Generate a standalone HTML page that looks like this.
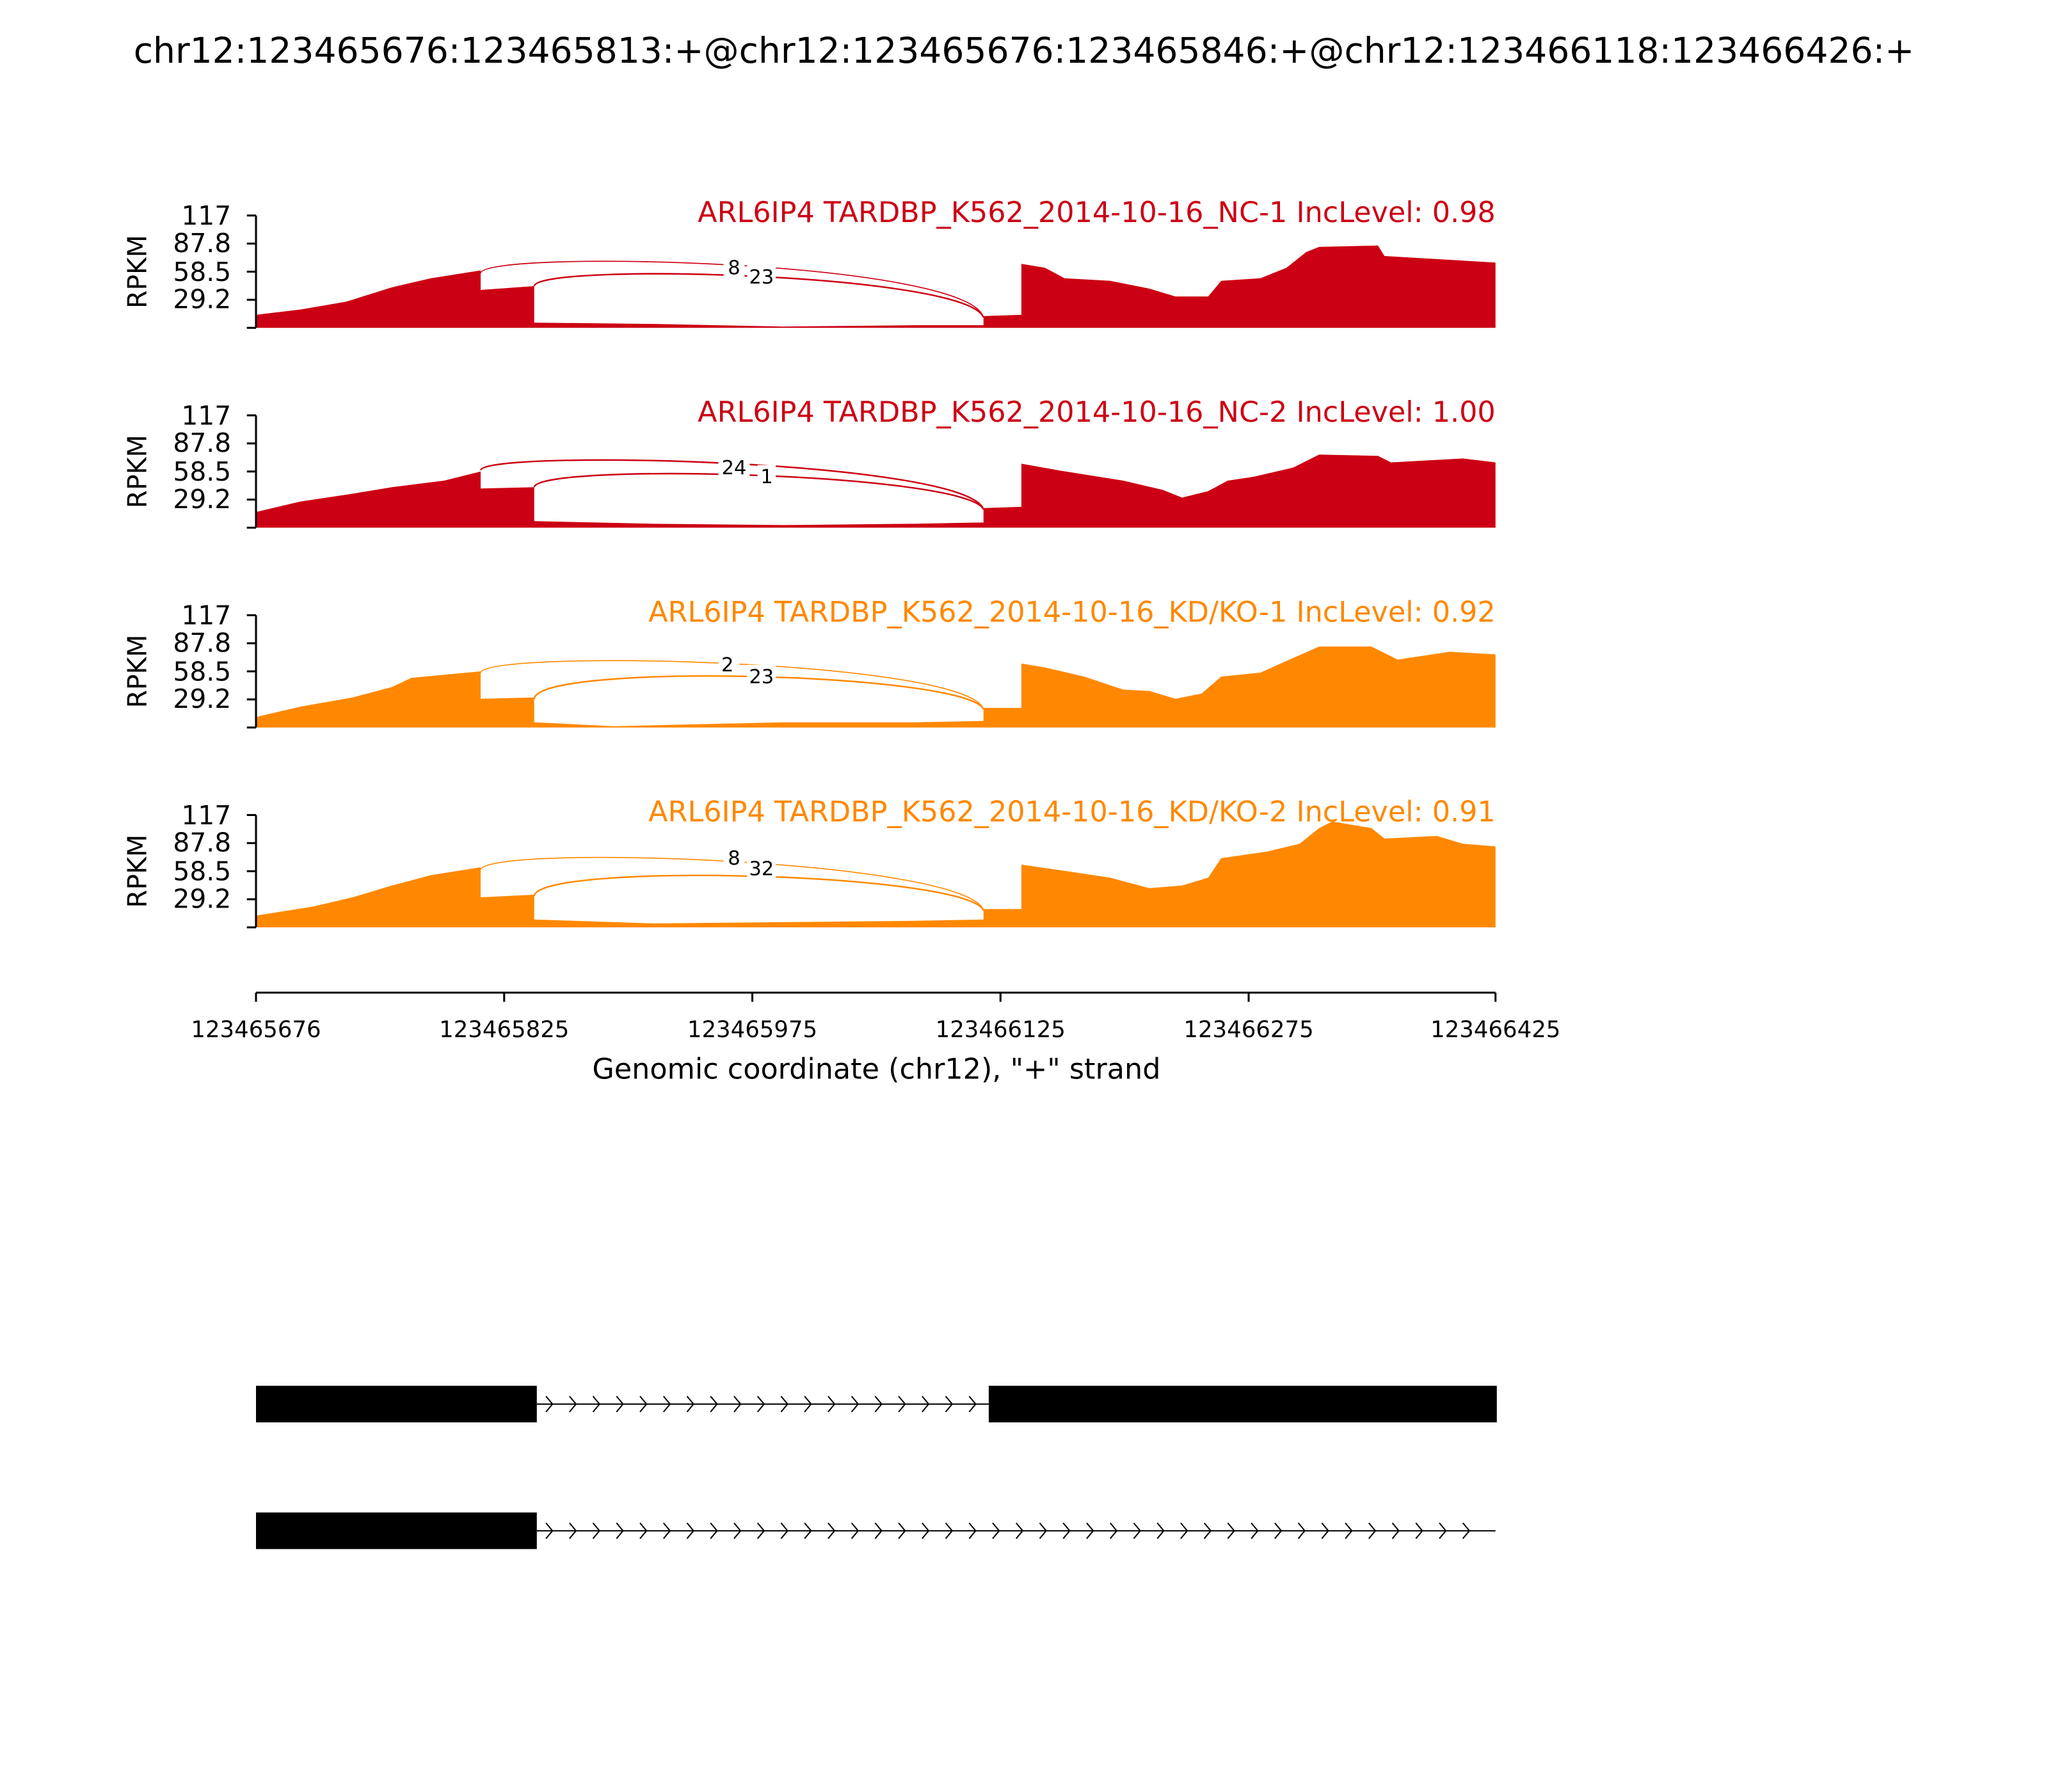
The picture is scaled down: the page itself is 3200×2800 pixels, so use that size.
<!DOCTYPE html>
<html><head><meta charset="utf-8"><style>html,body{margin:0;padding:0;background:#fff}svg{display:block}</style></head>
<body>
<svg width="3200" height="2800" viewBox="0 0 1568 1372" xmlns="http://www.w3.org/2000/svg" font-family="'DejaVu Sans','Liberation Sans',sans-serif">
<rect width="1568" height="1372" fill="#fff"/>
<text x="784" y="48" font-size="27" text-anchor="middle">chr12:123465676:123465813:+@chr12:123465676:123465846:+@chr12:123466118:123466426:+</text>

<defs>
<g id="yax">
<line x1="196" y1="0" x2="196" y2="86" stroke="#000" stroke-width="1.5"/>
<g stroke="#000" stroke-width="1.5">
<line x1="189" y1="0" x2="196" y2="0"/><line x1="189" y1="21.5" x2="196" y2="21.5"/><line x1="189" y1="43" x2="196" y2="43"/><line x1="189" y1="64.5" x2="196" y2="64.5"/><line x1="189" y1="86" x2="196" y2="86"/>
</g>
<g font-size="20" text-anchor="end">
<text x="177" y="7">117</text><text x="177" y="28">87.8</text><text x="177" y="50">58.5</text><text x="177" y="71">29.2</text>
</g>
<text transform="translate(112,43) rotate(-90)" font-size="20" text-anchor="middle">RPKM</text>
</g>
</defs>

<!-- Panel 1 -->
<g transform="translate(0,165)">
<polygon fill="#cc0014" points="196,76 230,72 265,66 300,55 330,48 368,42 368,57 409,54 409,82 500,83 600,85 700,84 753,84 753,77 782,76 782,37 800,40 815,48 850,50 880,56 900,62 925,62 935,50 965,48 985,40 1000,28 1010,24 1055,23 1060,31 1145,36 1145,86 196,86"/>
<use href="#yax"/>
<path d="M368,44 C372,26 740,34 753,78" fill="none" stroke="#cc0014" stroke-width="0.8"/>
<path d="M409,54 C412,36 740,44 753,78" fill="none" stroke="#cc0014" stroke-width="1.2"/>
<rect x="554" y="31" width="16" height="16" fill="#fff"/><text x="562" y="45" font-size="15" text-anchor="middle">8</text>
<rect x="572" y="38" width="22" height="16" fill="#fff"/><text x="583" y="52" font-size="15" text-anchor="middle">23</text>
<text x="1145" y="5" font-size="21.8" fill="#cc0014" text-anchor="end">ARL6IP4 TARDBP_K562_2014-10-16_NC-1 IncLevel: 0.98</text>
</g>

<!-- Panel 2 -->
<g transform="translate(0,318)">
<polygon fill="#cc0014" points="196,74 230,66 270,60 300,55 340,50 368,43 368,56 409,55 409,81 500,83 600,84 700,83 753,82 753,71 782,70 782,37 810,42 860,50 890,57 905,63 925,58 940,50 960,47 990,40 1010,30 1055,31 1065,36 1120,33 1145,36 1145,86 196,86"/>
<use href="#yax"/>
<path d="M368,42 C372,26 740,34 753,72" fill="none" stroke="#cc0014" stroke-width="1.2"/>
<path d="M409,55 C412,36 740,44 753,72" fill="none" stroke="#cc0014" stroke-width="1.2"/>
<rect x="550" y="31" width="24" height="16" fill="#fff"/><text x="562" y="45" font-size="15" text-anchor="middle">24</text>
<rect x="580" y="38" width="14" height="16" fill="#fff"/><text x="587" y="52" font-size="15" text-anchor="middle">1</text>
<text x="1145" y="5" font-size="21.8" fill="#cc0014" text-anchor="end">ARL6IP4 TARDBP_K562_2014-10-16_NC-2 IncLevel: 1.00</text>
</g>

<!-- Panel 3 -->
<g transform="translate(0,471)">
<polygon fill="#ff8800" points="196,78 230,70 270,63 300,55 315,48 368,43 368,64 409,63 409,82 470,85 600,82 700,82 753,81 753,71 782,71 782,37 800,40 830,47 860,57 880,58 900,64 920,60 935,47 965,44 985,35 1010,24 1050,24 1070,34 1110,28 1145,30 1145,86 196,86"/>
<use href="#yax"/>
<path d="M368,44 C372,26 740,34 753,72" fill="none" stroke="#ff8800" stroke-width="0.8"/>
<path d="M409,64 C412,36 740,44 753,72" fill="none" stroke="#ff8800" stroke-width="1.2"/>
<rect x="550" y="29" width="16" height="16" fill="#fff"/><text x="557" y="43" font-size="15" text-anchor="middle">2</text>
<rect x="572" y="38" width="22" height="16" fill="#fff"/><text x="583" y="52" font-size="15" text-anchor="middle">23</text>
<text x="1145" y="5" font-size="21.8" fill="#ff8800" text-anchor="end">ARL6IP4 TARDBP_K562_2014-10-16_KD/KO-1 IncLevel: 0.92</text>
</g>

<!-- Panel 4 -->
<g transform="translate(0,624)">
<polygon fill="#ff8800" points="196,77 240,70 270,63 300,54 330,46 368,40 368,63 409,61 409,80 500,83 600,82 700,81 753,80 753,72 782,72 782,38 810,42 850,48 880,56 905,54 925,48 935,33 970,28 995,22 1010,10 1020,5 1050,10 1060,18 1100,16 1120,22 1145,24 1145,86 196,86"/>
<use href="#yax"/>
<path d="M368,42 C372,22 740,34 753,73" fill="none" stroke="#ff8800" stroke-width="0.8"/>
<path d="M409,62 C412,36 740,44 753,73" fill="none" stroke="#ff8800" stroke-width="1.2"/>
<rect x="554" y="24" width="16" height="16" fill="#fff"/><text x="562" y="38" font-size="15" text-anchor="middle">8</text>
<rect x="572" y="32" width="22" height="16" fill="#fff"/><text x="583" y="46" font-size="15" text-anchor="middle">32</text>
<text x="1145" y="5" font-size="21.8" fill="#ff8800" text-anchor="end">ARL6IP4 TARDBP_K562_2014-10-16_KD/KO-2 IncLevel: 0.91</text>
</g>

<!-- X axis -->
<line x1="196" y1="760" x2="1145" y2="760" stroke="#000" stroke-width="1.5"/>
<g stroke="#000" stroke-width="1.5">
<line x1="196" y1="760" x2="196" y2="767"/><line x1="386" y1="760" x2="386" y2="767"/><line x1="576" y1="760" x2="576" y2="767"/><line x1="766" y1="760" x2="766" y2="767"/><line x1="956" y1="760" x2="956" y2="767"/><line x1="1145" y1="760" x2="1145" y2="767"/>
</g>
<g font-size="17.4" text-anchor="middle">
<text x="196" y="794">123465676</text><text x="386" y="794">123465825</text><text x="576" y="794">123465975</text><text x="766" y="794">123466125</text><text x="956" y="794">123466275</text><text x="1145" y="794">123466425</text>
</g>
<text x="671" y="826" font-size="21.8" text-anchor="middle">Genomic coordinate (chr12), "+" strand</text>

<!-- Gene models -->
<line x1="411" y1="1075" x2="757" y2="1075" stroke="#000" stroke-width="1"/>
<rect x="196" y="1061" width="215" height="28" fill="#000"/>
<rect x="757" y="1061" width="389" height="28" fill="#000"/>
<line x1="411" y1="1172" x2="1145" y2="1172" stroke="#000" stroke-width="1"/>
<rect x="196" y="1158" width="215" height="28" fill="#000"/>
<g fill="none" stroke="#000" stroke-width="1">
<path d="M418,1069 l5,6 l-5,6 M436,1069 l5,6 l-5,6 M454,1069 l5,6 l-5,6 M472,1069 l5,6 l-5,6 M490,1069 l5,6 l-5,6 M508,1069 l5,6 l-5,6 M526,1069 l5,6 l-5,6 M544,1069 l5,6 l-5,6 M562,1069 l5,6 l-5,6 M580,1069 l5,6 l-5,6 M598,1069 l5,6 l-5,6 M616,1069 l5,6 l-5,6 M634,1069 l5,6 l-5,6 M652,1069 l5,6 l-5,6 M670,1069 l5,6 l-5,6 M688,1069 l5,6 l-5,6 M706,1069 l5,6 l-5,6 M724,1069 l5,6 l-5,6 M742,1069 l5,6 l-5,6"/>
<path d="M418,1166 l5,6 l-5,6 M436,1166 l5,6 l-5,6 M454,1166 l5,6 l-5,6 M472,1166 l5,6 l-5,6 M490,1166 l5,6 l-5,6 M508,1166 l5,6 l-5,6 M526,1166 l5,6 l-5,6 M544,1166 l5,6 l-5,6 M562,1166 l5,6 l-5,6 M580,1166 l5,6 l-5,6 M598,1166 l5,6 l-5,6 M616,1166 l5,6 l-5,6 M634,1166 l5,6 l-5,6 M652,1166 l5,6 l-5,6 M670,1166 l5,6 l-5,6 M688,1166 l5,6 l-5,6 M706,1166 l5,6 l-5,6 M724,1166 l5,6 l-5,6 M742,1166 l5,6 l-5,6 M760,1166 l5,6 l-5,6 M778,1166 l5,6 l-5,6 M796,1166 l5,6 l-5,6 M814,1166 l5,6 l-5,6 M832,1166 l5,6 l-5,6 M850,1166 l5,6 l-5,6 M868,1166 l5,6 l-5,6 M886,1166 l5,6 l-5,6 M904,1166 l5,6 l-5,6 M922,1166 l5,6 l-5,6 M940,1166 l5,6 l-5,6 M958,1166 l5,6 l-5,6 M976,1166 l5,6 l-5,6 M994,1166 l5,6 l-5,6 M1012,1166 l5,6 l-5,6 M1030,1166 l5,6 l-5,6 M1048,1166 l5,6 l-5,6 M1066,1166 l5,6 l-5,6 M1084,1166 l5,6 l-5,6 M1102,1166 l5,6 l-5,6 M1120,1166 l5,6 l-5,6"/>
</g>
</svg>
</body></html>
